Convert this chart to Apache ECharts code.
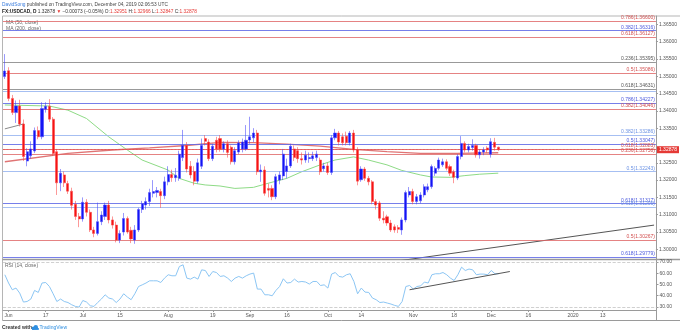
<!DOCTYPE html>
<html><head><meta charset="utf-8">
<script src="https://cdn.jsdelivr.net/npm/echarts@6/dist/echarts.min.js"></script>
<style>html,body{margin:0;padding:0;background:#fff}#c{width:680px;height:334px}</style>
</head><body><div id="c"></div>
<script>
// ---------------- data ----------------
const startDate = '2019-05-31';   // first daily candle
const slotCount = 176;            // weekdays shown on the time axis
const openP = [1.3499,1.3516,1.3436,1.3395,1.3414,1.3362,1.3255,1.3270,1.3284,1.3343,1.3325,1.3405,1.3413,1.3376,1.3282,1.3192,1.3215,1.3190,1.3168,1.3130,1.3095,1.3088,1.3136,1.3107,1.3056,1.3046,1.3080,1.3095,1.3128,1.3085,1.3070,1.3027,1.3050,1.3089,1.3055,1.3027,1.3056,1.3115,1.3128,1.3138,1.3162,1.3164,1.3167,1.3155,1.3195,1.3216,1.3207,1.3205,1.3265,1.3300,1.3240,1.3225,1.3197,1.3240,1.3320,1.3310,1.3262,1.3315,1.3320,1.3290,1.3305,1.3295,1.3253,1.3281,1.3290,1.3290,1.3316,1.3322,1.3336,1.3224,1.3229,1.3176,1.3176,1.3152,1.3200,1.3212,1.3225,1.3241,1.3290,1.3285,1.3262,1.3258,1.3262,1.3262,1.3265,1.3258,1.3233,1.3241,1.3222,1.3322,1.3336,1.3325,1.3327,1.3308,1.3336,1.3287,1.3201,1.3232,1.3205,1.3195,1.3138,1.3134,1.3090,1.3094,1.3076,1.3065,1.3063,1.3056,1.3085,1.3157,1.3167,1.3138,1.3140,1.3157,1.3172,1.3181,1.3220,1.3234,1.3244,1.3253,1.3239,1.3224,1.3206,1.3268,1.3306,1.3287,1.3294,1.3300,1.3273,1.3281,1.3293,1.3275,1.3309,1.32951];
const closeP = [1.3515,1.3436,1.3395,1.3414,1.3362,1.3268,1.3282,1.3290,1.3343,1.3325,1.3407,1.3413,1.3376,1.3277,1.3192,1.3220,1.3192,1.3168,1.3127,1.3095,1.3088,1.3136,1.3107,1.3056,1.3046,1.3080,1.3099,1.3128,1.3085,1.3070,1.3027,1.3046,1.3089,1.3050,1.3030,1.3056,1.3115,1.3132,1.3138,1.3164,1.3167,1.3170,1.3155,1.3195,1.3216,1.3207,1.3214,1.3275,1.3300,1.3232,1.3215,1.3197,1.3250,1.3300,1.3312,1.3262,1.3298,1.3290,1.3290,1.3305,1.3280,1.3253,1.3285,1.3307,1.3310,1.3315,1.3325,1.3336,1.3224,1.3229,1.3162,1.3171,1.3152,1.3210,1.3215,1.3275,1.3241,1.3298,1.3265,1.3262,1.3258,1.3272,1.3265,1.3270,1.3275,1.3224,1.3241,1.3222,1.3322,1.3336,1.3310,1.3308,1.3308,1.3336,1.3287,1.3197,1.3232,1.3205,1.3195,1.3138,1.3128,1.3090,1.3085,1.3076,1.3056,1.3056,1.3058,1.3085,1.3164,1.3167,1.3138,1.3152,1.3157,1.3181,1.3181,1.3239,1.3234,1.3258,1.3253,1.3234,1.3220,1.3208,1.3268,1.3306,1.3287,1.3297,1.3300,1.3273,1.3281,1.3287,1.3287,1.3311,1.3295,1.32878];
const lowP = [1.3492,1.3428,1.3388,1.3365,1.3355,1.3255,1.3240,1.3262,1.3278,1.3318,1.3318,1.3395,1.3368,1.3270,1.3157,1.3168,1.3180,1.3160,1.3115,1.3085,1.3064,1.3080,1.3095,1.3050,1.3035,1.3040,1.3070,1.3085,1.3075,1.3060,1.3020,1.3018,1.3040,1.3045,1.3018,1.3016,1.3050,1.3105,1.3115,1.3125,1.3150,1.3150,1.3120,1.3145,1.3185,1.3195,1.3195,1.3198,1.3255,1.3222,1.3205,1.3185,1.3190,1.3232,1.3300,1.3255,1.3255,1.3280,1.3282,1.3280,1.3265,1.3245,1.3245,1.3275,1.3280,1.3285,1.3305,1.3310,1.3215,1.3195,1.3155,1.3150,1.3142,1.3145,1.3188,1.3200,1.3205,1.3235,1.3255,1.3250,1.3245,1.3250,1.3250,1.3255,1.3255,1.3215,1.3225,1.3215,1.3215,1.3315,1.3300,1.3300,1.3300,1.3300,1.3280,1.3185,1.3195,1.3198,1.3185,1.3130,1.3115,1.3082,1.3075,1.3068,1.3050,1.3048,1.3047,1.3042,1.3078,1.3150,1.3130,1.3130,1.3133,1.3150,1.3165,1.3175,1.3212,1.3228,1.3238,1.3228,1.3212,1.3191,1.3200,1.3260,1.3280,1.3280,1.3285,1.3265,1.3262,1.3272,1.3278,1.3265,1.3285,1.32847];
const highP = [1.3564,1.3526,1.3446,1.3430,1.3432,1.3375,1.3292,1.3312,1.3352,1.3355,1.3425,1.3425,1.3434,1.3382,1.3290,1.3232,1.3225,1.3198,1.3178,1.3140,1.3105,1.3150,1.3145,1.3115,1.3065,1.3135,1.3110,1.3135,1.3140,1.3095,1.3080,1.3055,1.3105,1.3095,1.3065,1.3070,1.3120,1.3140,1.3150,1.3175,1.3200,1.3180,1.3175,1.3210,1.3240,1.3230,1.3235,1.3285,1.3345,1.3310,1.3255,1.3240,1.3262,1.3320,1.3330,1.3318,1.3305,1.3325,1.3330,1.3312,1.3315,1.3300,1.3295,1.3315,1.3320,1.3359,1.3383,1.3350,1.3345,1.3245,1.3240,1.3190,1.3185,1.3218,1.3225,1.3290,1.3262,1.3305,1.3300,1.3295,1.3280,1.3285,1.3280,1.3282,1.3285,1.3265,1.3250,1.3250,1.3330,1.3348,1.3342,1.3335,1.3340,1.3342,1.3345,1.3295,1.3240,1.3238,1.3212,1.3200,1.3145,1.3140,1.3110,1.3100,1.3085,1.3072,1.3070,1.3092,1.3170,1.3180,1.3175,1.3160,1.3165,1.3188,1.3190,1.3245,1.3240,1.3265,1.3262,1.3260,1.3245,1.3230,1.3275,1.3327,1.3312,1.3305,1.3318,1.3305,1.3288,1.3295,1.3298,1.3321,1.3322,1.32966];

// moving averages: [candle index, value]
const ma50Points = [[0,1.3417],[12,1.3414],[17,1.3402],[22,1.3378],[28,1.3325],[33,1.3287],[37,1.3258],[44,1.3229],[47,1.3205],[51,1.3191],[54,1.3186],[58,1.3183],[62,1.3176],[67,1.3179],[71,1.3191],[76,1.3205],[80,1.3224],[85,1.3244],[89,1.3258],[94,1.3267],[98,1.3258],[103,1.3244],[107,1.3228],[112,1.3215],[115,1.3209],[120,1.3208],[124,1.3213],[128,1.3217],[133,1.3220]];
const ma200Points = [[0,1.3253],[17,1.3277],[29,1.3287],[39,1.3293],[49,1.3300],[58,1.3309],[67,1.3308],[76,1.3304],[85,1.3298],[94,1.3289],[103,1.3282],[112,1.3277],[122,1.3277],[133,1.3279]];

const rsiValues = [58.6,51.2,45.2,46.7,42.2,34.2,34.7,36.9,44.6,42.8,51.2,51.7,48.1,41.6,34.7,36.9,34.7,33.8,31.8,30.3,29.7,35.6,34.2,30.9,30.3,33.8,36.9,40.7,37.8,36.9,33.8,36.9,41.6,38.7,36.3,41.6,48.1,49.6,51.2,53.2,53.2,53.2,51.7,55.6,58.6,57.7,57.7,66.0,67.5,55.6,54.7,56.5,54.7,63.0,62.4,57.1,61.5,60.6,57.1,57.7,55.6,52.6,55.6,57.1,55.6,57.7,59.2,60.1,45.8,45.8,40.7,40.7,39.8,44.6,48.1,55.0,51.2,51.7,54.7,52.1,52.6,52.1,50.3,52.6,52.6,49.0,49.6,46.7,59.2,60.6,57.1,56.5,58.6,59.5,52.6,41.6,46.7,43.1,42.8,37.8,36.3,33.8,34.2,33.3,32.4,31.2,30.3,34.7,48.1,49.0,45.8,48.1,48.7,52.1,51.2,58.6,59.5,59.5,60.6,58.6,55.6,53.5,58.6,65.4,62.4,63.7,63.0,58.6,59.2,59.2,58.6,62.4,59.5,59.5];

// Fibonacci retracement levels
const fibLevels = [1.36600,1.36316,1.36127,1.35395,1.35086,1.34631,1.34580,1.34227,1.34046,1.33286,1.33047,1.32883,1.32758,1.32243,1.31317,1.31205,1.30267,1.29779];
const fibTexts  = ['0.786(1.36600)','0.382(1.36316)','0.618(1.36127)','0.236(1.35395)','0.5(1.35086)','0.618(1.34631)','','0.786(1.34227)','0.382(1.34046)','0.382(1.33286)','0.5(1.33047)','0.618(1.32883)','0.236(1.32758)','0.5(1.32243)','0.618(1.31317)','0.618(1.31205)','0.5(1.30267)','0.618(1.29779)'];
const fibKinds  = ['red','blue','red','gray','red','gray','light','blue','red','light','blue','red','red','light','blue','light','red','blue'];

const priceTicks = [1.365,1.36,1.355,1.35,1.345,1.34,1.335,1.325,1.32,1.315,1.31,1.305,1.30];
const rsiTicks = [30,40,50,60,70];
const timeTickDates = ['2019-06-03','2019-06-17','2019-07-01','2019-07-15','2019-08-01','2019-08-19','2019-09-02','2019-09-16','2019-10-01','2019-10-14','2019-11-01','2019-11-18','2019-12-02','2019-12-16','2020-01-01','2020-01-13'];
const timeTickTexts = ['Jun','17','Jul','15','Aug','19','Sep','16','Oct','14','Nov','18','Dec','16','2020','13'];
const lastPrice = 1.32878;
const priceTrend = [[103,1.2962],[175,1.3070]];
const leftTrend = [[0,1.3348],[5,1.3362]];
const rsiTrend = [[109,45.2],[136,61.5]];

// ---------------- build ----------------
function weekdays(start, n){
  const out=[]; const d=new Date(start+'T00:00:00Z');
  while(out.length<n){ const w=d.getUTCDay(); if(w!==0&&w!==6) out.push(d.toISOString().slice(0,10)); d.setUTCDate(d.getUTCDate()+1); }
  return out;
}
const dates = weekdays(startDate, slotCount);
const candles = openP.map((o,i)=>[o, closeP[i], lowP[i], highP[i]]);
const tickMap = {}; timeTickDates.forEach((d,i)=>tickMap[d]=timeTickTexts[i]);
const FF = '"Liberation Sans", Arial, sans-serif';
const FS = 5;
const HFS = 4.8;
const kindLine = {red:'rgba(222,100,100,0.8)', blue:'rgba(95,105,230,0.85)', light:'rgba(150,180,240,0.85)', gray:'rgba(135,135,135,0.85)'};
const kindText = {red:'#d24f4f', blue:'#4a58dd', light:'#6b92e4', gray:'#555555'};

const fibData = fibLevels.map((v,i)=>({
  yAxis: v,
  lineStyle: {color: kindLine[fibKinds[i]], width: 1.2, type: 'solid'},
  label: {show: fibTexts[i] !== '', formatter: fibTexts[i], position: 'insideEndTop', distance: 1,
          color: kindText[fibKinds[i]], fontSize: FS, fontFamily: FF}
}));
fibData.push({
  yAxis: lastPrice,
  lineStyle: {color: '#e53935', width: 0.7, type: 'dotted'},
  label: {show: true, position: 'end', distance: 1, formatter: lastPrice.toFixed(5), color: '#fff',
          backgroundColor: '#e53935', padding: [1,2,1,2], fontSize: FS, fontFamily: FF}
});

const chart = echarts.init(document.getElementById('c'), null, {renderer:'canvas'});
const axisGray = '#9a9a9a';
chart.setOption({
  animation: false,
  backgroundColor: '#ffffff',
  grid: [
    {left: 3, right: 23.5, top: 16, height: 243},
    {left: 3, right: 23.5, top: 260, height: 50}
  ],
  xAxis: [
    {type:'category', gridIndex:0, data: dates, boundaryGap: true,
     axisLine:{show:false}, axisTick:{show:false}, axisLabel:{show:false}, splitLine:{show:false}},
    {type:'category', gridIndex:1, data: dates, boundaryGap: true,
     axisLine:{show:true, lineStyle:{color: axisGray, width: 1}},
     axisTick:{show:true, alignWithLabel:true, length:2, interval:(i,v)=>tickMap[v]!==undefined, lineStyle:{color: axisGray}},
     axisLabel:{interval:(i,v)=>tickMap[v]!==undefined, formatter:(v)=>tickMap[v]||'', fontSize: FS, color:'#555', margin: 3, fontFamily: FF},
     splitLine:{show:false}}
  ],
  yAxis: [
    {type:'value', gridIndex:0, position:'right', min: 1.29721, max: 1.36740,
     axisLine:{show:true, lineStyle:{color: axisGray}},
     axisTick:{show:true, length:2, customValues: priceTicks, lineStyle:{color: axisGray}},
     axisLabel:{customValues: priceTicks, formatter:(v)=>v.toFixed(5), fontSize: FS, color:'#555', margin: 3, fontFamily: FF},
     splitLine:{show:false}},
    {type:'value', gridIndex:1, position:'right', min: 27.1, max: 71.8,
     axisLine:{show:true, lineStyle:{color: axisGray}},
     axisTick:{show:true, length:2, customValues: rsiTicks, lineStyle:{color: axisGray}},
     axisLabel:{customValues: rsiTicks, formatter:(v)=>v.toFixed(2), fontSize: FS, color:'#555', margin: 3, fontFamily: FF},
     splitLine:{show:false}}
  ],
  series: [
    {type:'line', name:'fib', xAxisIndex:0, yAxisIndex:0, data: closeP, showSymbol:false,
     lineStyle:{opacity:0}, silent:true, z:1,
     markLine:{symbol:['none','none'], precision:5, silent:true, animation:false, data: fibData}},
    {type:'line', name:'MA200', xAxisIndex:0, yAxisIndex:0, data: ma200Points, showSymbol:false, smooth:false,
     lineStyle:{color:'#e07474', width:1.3}, z:2},
    {type:'line', name:'MA50', xAxisIndex:0, yAxisIndex:0, data: ma50Points, showSymbol:false, smooth:false,
     lineStyle:{color:'#8edb86', width:1}, z:2},
    {type:'line', name:'trend', xAxisIndex:0, yAxisIndex:0, data: priceTrend, showSymbol:false,
     lineStyle:{color:'#555', width:1}, z:3},
    {type:'line', name:'trend2', xAxisIndex:0, yAxisIndex:0, data: leftTrend, showSymbol:false,
     lineStyle:{color:'#8a8a8a', width:1}, z:3},
    {type:'candlestick', name:'USDCAD', xAxisIndex:0, yAxisIndex:0, data: candles, barWidth: 2.6, z:5,
     itemStyle:{color:'#1414f5', color0:'#f51414', borderColor:'rgba(70,70,250,0.55)', borderColor0:'rgba(250,70,70,0.55)', borderWidth:1}},
    {type:'line', name:'RSI', xAxisIndex:1, yAxisIndex:1, data: rsiValues, showSymbol:false,
     lineStyle:{color:'#8cc6f4', width:1}, z:3,
     markLine:{symbol:['none','none'], silent:true, animation:false, label:{show:false},
       lineStyle:{color:'#c4c4c4', type:'dashed', width:0.8},
       data:[{yAxis:70},{yAxis:30}]}},
    {type:'line', name:'RSItrend', xAxisIndex:1, yAxisIndex:1, data: rsiTrend, showSymbol:false,
     lineStyle:{color:'#555', width:1}, z:4}
  ],
  graphic: [
    // frame
    {type:'line', shape:{x1:2.5, y1:16, x2:680, y2:16}, style:{stroke:'#b5b5b5', lineWidth:1}, silent:true},
    {type:'line', shape:{x1:2.5, y1:16, x2:2.5, y2:320.5}, style:{stroke:'#b5b5b5', lineWidth:1}, silent:true},
    {type:'line', shape:{x1:2.5, y1:259.5, x2:680, y2:259.5}, style:{stroke:'#9a9a9a', lineWidth:1.5}, silent:true},
    {type:'line', shape:{x1:2.5, y1:320.5, x2:680, y2:320.5}, style:{stroke:'#9a9a9a', lineWidth:1}, silent:true},
    {type:'line', shape:{x1:656.5, y1:16, x2:656.5, y2:320.5}, style:{stroke:'#9a9a9a', lineWidth:1}, silent:true},
    // header
    {type:'text', x:2, y:5, silent:true, style:{
      text:'{a|DavidSong}{b| published on TradingView.com, December 04, 2019 02:06:53 UTC}',
      verticalAlign:'middle',
      rich:{a:{fill:'#3b7ddd', fontSize:HFS, fontFamily:FF}, b:{fill:'#444', fontSize:HFS, fontFamily:FF}}}},
    {type:'text', x:2, y:11.5, silent:true, style:{
      text:'{k|FX:USDCAD, D}{n| 1.32878 }{r|▼}{n| −0.00073 (−0.05%) O:}{r|1.32951}{n| H:}{r|1.32966}{n| L:}{r|1.32847}{n| C:}{r|1.32878}',
      verticalAlign:'middle',
      rich:{k:{fill:'#222', fontSize:HFS, fontWeight:'bold', fontFamily:FF}, n:{fill:'#333', fontSize:HFS, fontFamily:FF}, r:{fill:'#e53935', fontSize:HFS, fontFamily:FF}}}},
    // indicator titles
    {type:'text', x:6, y:23, silent:true, style:{text:'MA (50, close)', fill:'#666', fontSize:FS, fontFamily:FF, verticalAlign:'middle'}},
    {type:'text', x:6, y:29, silent:true, style:{text:'MA (200, close)', fill:'#666', fontSize:FS, fontFamily:FF, verticalAlign:'middle'}},
    {type:'text', x:5, y:265.5, silent:true, style:{text:'RSI (14, close)', fill:'#666', fontSize:FS, fontFamily:FF, verticalAlign:'middle'}},
    // footer
    {type:'text', x:2, y:327.7, silent:true, style:{text:'Created with', fill:'#333', fontSize:FS, fontWeight:'bold', fontFamily:FF, verticalAlign:'middle'}},
    {type:'circle', shape:{cx:33.3, cy:328.2, r:1.7}, style:{fill:'#2e8ee0'}, silent:true},
    {type:'circle', shape:{cx:35.8, cy:327.2, r:2.2}, style:{fill:'#2e8ee0'}, silent:true},
    {type:'rect', shape:{x:32, y:328, width:6.8, height:1.9}, style:{fill:'#2e8ee0'}, silent:true},
    {type:'text', x:39.5, y:327.7, silent:true, style:{text:'TradingView', fill:'#2e8ee0', fontSize:FS, fontFamily:FF, verticalAlign:'middle'}}
  ]
});
</script></body></html>
